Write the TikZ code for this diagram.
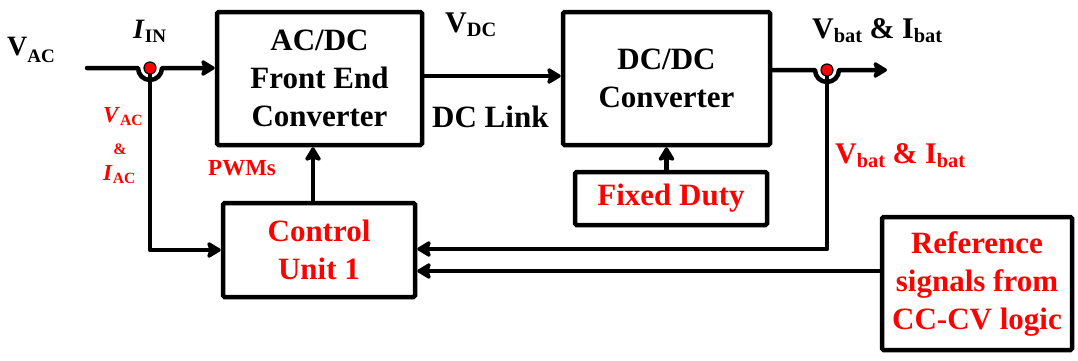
\documentclass[tikz,border=0pt]{standalone}
\usepackage{fontspec}
\usepackage{graphicx}
\setmainfont{Liberation Serif}
\usetikzlibrary{arrows.meta,calc}
\definecolor{sigred}{RGB}{255,0,0}
\newcommand\sbs[2][-0.15em]{\raisebox{#1}{\scalebox{0.68}{#2}}}
\begin{document}
\begin{tikzpicture}[x=1pt,y=-1pt,
  block/.style={draw, rounded corners=1.5pt, line width=4.5pt, inner sep=0pt, align=center,
    font=\fontsize{31}{38}\selectfont\bfseries},
  conn/.style={line width=4.5pt, line cap=round, line join=round,
    -{Stealth[length=16pt,width=19pt,inset=3pt,round]}},
  lbl/.style={inner sep=0pt, anchor=base west, font=\fontsize{30}{36}\selectfont\bfseries},
  redlbl/.style={lbl, text=sigred, font=\fontsize{23}{27}\selectfont\bfseries},
  dot/.style={fill=sigred, draw=black, line width=1.2pt},
]
\useasboundingbox (0,0) rectangle (1078,360);

% blocks
\node[block, minimum width=205pt, minimum height=133pt] (acdc) at (319.5,78.5) {AC/DC\\Front End\\Converter};
\node[block, minimum width=207pt, minimum height=133pt] (dcdc) at (666.5,78.5) {DC/DC\\Converter};
\node[block, minimum width=192pt, minimum height=53pt, text=sigred] (fixed) at (671,198.5) {Fixed Duty};
\node[block, minimum width=192pt, minimum height=94pt, text=sigred] (ctrl) at (319,250) {Control\\Unit 1};
\node[block, minimum width=190pt, minimum height=133pt, text=sigred] (ref) at (977,283.5) {Reference\\signals from\\CC-CV logic};

% coordinates
\coordinate (vin) at (87,68);
\coordinate (hop1) at (150,68);
\coordinate (hop2) at (827,70);
\coordinate (vout) at (887,70);

% input line with hop
\draw[conn] (vin) -- ($(hop1)+(-12,0)$) arc[start angle=180, end angle=0, radius=12] -- (acdc.west |- hop1);
% sense line to control unit
\draw[conn] (hop1) |- (ctrl.west);
% PWMs
\draw[conn] ($(ctrl.north)+(-6,0)$) -- ($(acdc.south)+(-6.5,0)$);
% DC link
\draw[conn] ($(acdc.east)+(0,-2.5)$) -- ($(dcdc.west)+(0,-2.5)$);
% fixed duty
\draw[conn] (fixed.north -| dcdc.south) -- (dcdc.south);
% output with hop
\draw[conn] (dcdc.east |- hop2) -- ($(hop2)+(-12,0)$) arc[start angle=180, end angle=0, radius=12] -- (vout);
% battery feedback
\draw[conn] (hop2) |- ($(ctrl.east)+(0,-1)$);
% reference signals
\draw[conn] (ref.west |- 0,271) -- ($(ctrl.east)+(0,21)$);

% dots
\draw[dot] (hop1) circle[radius=6];
\draw[dot] (hop2) circle[radius=6];

% labels
\node[lbl, font=\fontsize{28}{32}\selectfont\bfseries] (lvac) at (7,55) {V\sbs[-0.28em]{AC}};
\node[lbl, font=\fontsize{28}{32}\selectfont\bfseries] (lin) at (133,38) {\textit{I}\sbs{IN}};
\node[lbl] (lvdc) at (445,32) {V\sbs{DC}};
\node[lbl, font=\fontsize{31}{36}\selectfont\bfseries] (llink) at (432,127) {DC Link};
\node[lbl] (lvbat) at (812,38) {V\sbs{bat} \& I\sbs{bat}};
\node[lbl, text=sigred] (lvbatr) at (835,163) {V\sbs{bat} \& I\sbs{bat}};
\node[redlbl] (lpwm) at (208,175) {PWMs};
\node[redlbl] (lvacr) at (103,122) {\textit{V}\sbs{AC}};
\node[redlbl, anchor=center, font=\fontsize{16}{18}\selectfont\bfseries] (land) at (120,149) {\&};
\node[redlbl] (liac) at (103,180) {\textit{I}\sbs{AC}};
\end{tikzpicture}
\end{document}
